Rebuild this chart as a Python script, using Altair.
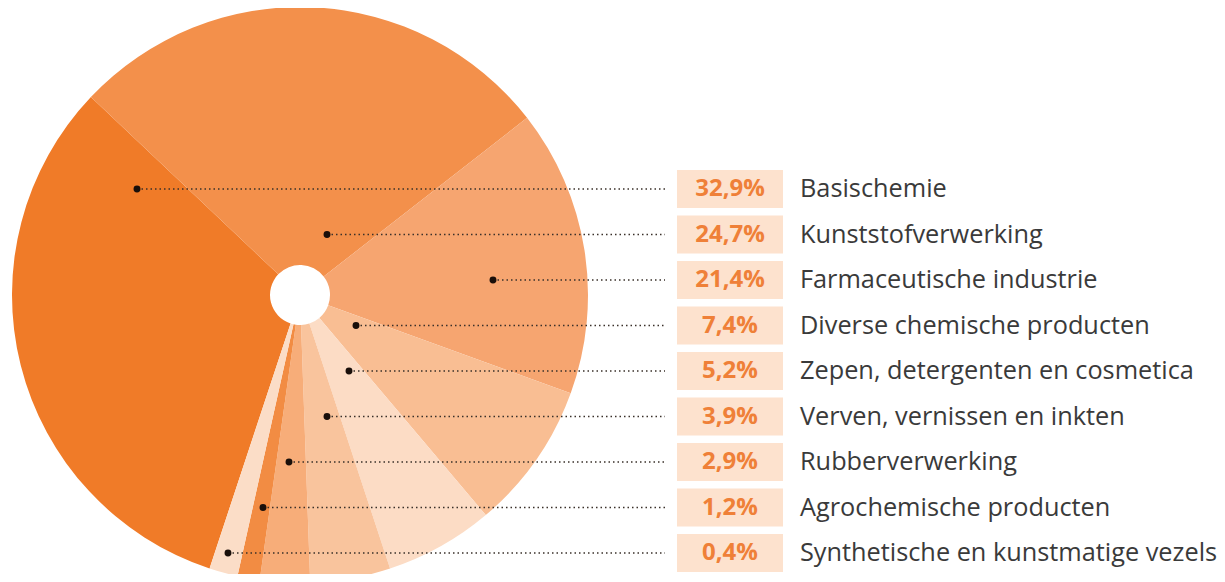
import math
import altair as alt
import pandas as pd

# ---- data ----
categories = [
    "Basischemie",
    "Kunststofverwerking",
    "Farmaceutische industrie",
    "Diverse chemische producten",
    "Zepen, detergenten en cosmetica",
    "Verven, vernissen en inkten",
    "Rubberverwerking",
    "Agrochemische producten",
    "Synthetische en kunstmatige vezels",
]
# percentages printed in the label boxes
pct_values = [32.9, 24.7, 21.4, 7.4, 5.2, 3.9, 2.9, 1.2, 0.4]
# share of the circle each slice occupies as drawn in the picture (%)
slice_share = [32.0, 27.4, 16.1, 8.3, 6.1, 4.5, 2.8, 1.25, 1.6]

# ---- styling / layout ----
slice_colors = ["#F07B28", "#F3904B", "#F6A570", "#F9BE93", "#FCDCC5",
                "#F9C49D", "#F7AD79", "#F28C43", "#FBDDC7"]
leader_start_x = [129, 319, 485, 348, 341, 319, 281, 255, 220]

W, H = 1209, 566
CX, CY, R_OUT, R_IN = 292, 287, 288, 30
START = math.radians(198.3)

df = pd.DataFrame({
    "category": categories,
    "pct": pct_values,
    "share": slice_share,
    "idx": list(range(len(categories))),
    "pct_label": [f"{v:.1f}".replace(".", ",") + "%" for v in pct_values],
    "lx": leader_start_x,
})

yscale = alt.Scale(domain=[0, len(categories) - 1], range=[181, 545])
xscale = alt.Scale(domain=[0, W], range=[0, W])

base = alt.Chart(df)

pie = base.mark_arc(outerRadius=R_OUT, innerRadius=R_IN, stroke=None).encode(
    theta=alt.Theta("share:Q", stack=True,
                    scale=alt.Scale(range=[START, START + 2 * math.pi])),
    color=alt.Color("category:N",
                    scale=alt.Scale(domain=categories, range=slice_colors),
                    legend=None),
    order=alt.Order("idx:Q"),
    x=alt.value(CX),
    y=alt.value(CY),
)

leaders = base.mark_rule(strokeDash=[1.5, 3], strokeWidth=1.7,
                         color="#3a302a").encode(
    x=alt.X("lx:Q", scale=xscale, axis=None),
    x2=alt.value(657),
    y=alt.Y("idx:Q", scale=yscale, axis=None),
)

dots = base.mark_circle(size=48, color="#1a0f0a", opacity=1).encode(
    x=alt.X("lx:Q", scale=xscale, axis=None),
    y=alt.Y("idx:Q", scale=yscale, axis=None),
)

boxes = base.transform_calculate(
    y0="datum.idx - 0.42", y1="datum.idx + 0.42"
).mark_rect(color="#FDE2CE").encode(
    x=alt.value(669),
    x2=alt.value(775),
    y=alt.Y("y0:Q", scale=yscale, axis=None),
    y2="y1:Q",
)

pct_text = base.mark_text(font="Open Sans", fontSize=24, fontWeight="bold",
                          color="#EF8038", align="center",
                          baseline="middle").encode(
    x=alt.value(722),
    y=alt.Y("idx:Q", scale=yscale, axis=None),
    text="pct_label:N",
)

labels = base.mark_text(font="Open Sans", fontSize=25.3, color="#3a3a3a",
                        align="left", baseline="middle").encode(
    x=alt.value(792),
    y=alt.Y("idx:Q", scale=yscale, axis=None),
    text="category:N",
)

chart = alt.layer(pie, leaders, dots, boxes, pct_text, labels).properties(
    width=W, height=H, padding=0,
    autosize=alt.AutoSizeParams(type="none"),
).configure_view(stroke=None)

chart.save("out.html", embed_options={"renderer": "svg", "actions": False})
